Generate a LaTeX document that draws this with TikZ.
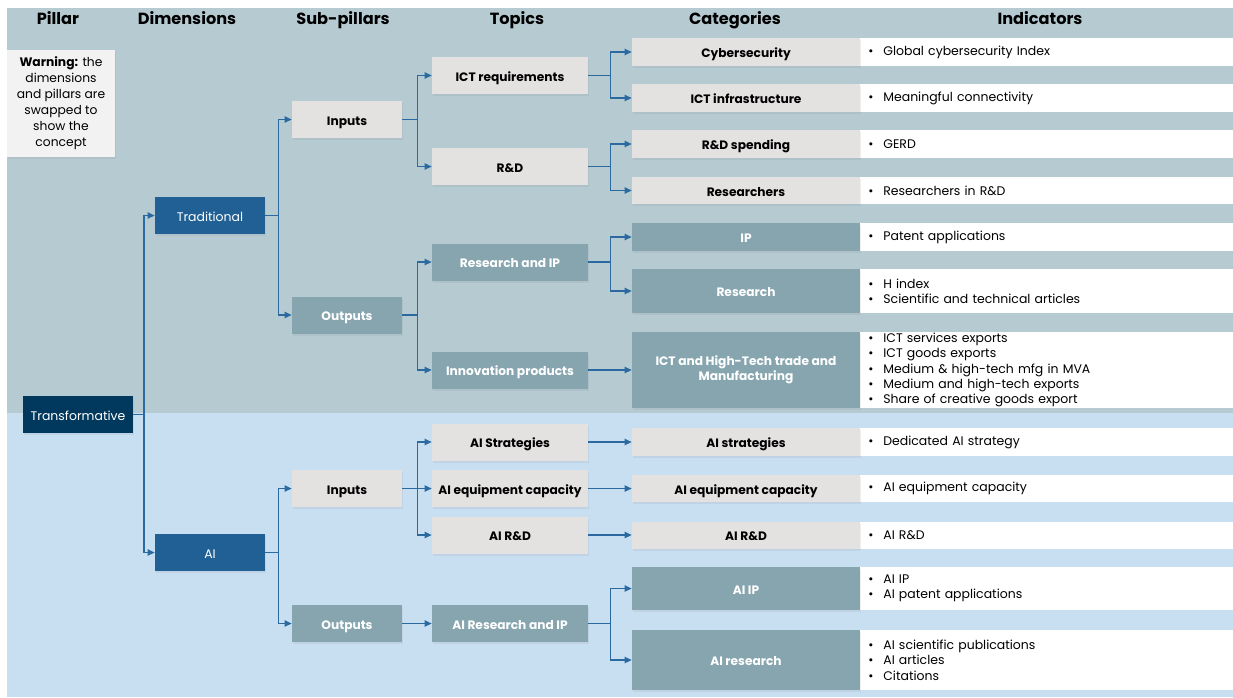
\documentclass[tikz,border=0pt]{standalone}
\usepackage{fontspec}
\setmainfont{Poppins}
\usetikzlibrary{arrows.meta,shadows}

\definecolor{bgtop}{HTML}{B6CAD2}
\definecolor{bgbot}{HTML}{C8DFF2}
\definecolor{navy}{HTML}{00395D}
\definecolor{dimblue}{HTML}{206094}
\definecolor{boxgrey}{HTML}{E4E1E1}
\definecolor{boxteal}{HTML}{86A5AF}
\definecolor{linkblue}{HTML}{2A6AA0}
\definecolor{warngrey}{HTML}{F2F2F2}

\newcommand{\bl}[1]{\makebox[0.3cm][l]{\textbullet}#1}

\tikzset{
  box/.style={inner sep=0pt, align=center, font=\fontsize{7.1}{8.8}\selectfont,
    drop shadow={opacity=0.12, shadow xshift=0.8pt, shadow yshift=-1.2pt}},
  oneline/.style={text height=1.55ex, text depth=0.4ex},
  head/.style={oneline, font=\fontsize{9.2}{11}\selectfont\bfseries},
  warnbox/.style={box, fill=warngrey, minimum width=2.16cm, minimum height=2.14cm,
    font=\fontsize{7.0}{9.1}\selectfont},
  navybox/.style={box, oneline, fill=navy, text=white, minimum width=2.2cm, minimum height=0.74cm},
  dimbox/.style={box, oneline, fill=dimblue, text=white, minimum width=2.2cm, minimum height=0.74cm},
  lightbox/.style={box, fill=boxgrey, font=\fontsize{6.95}{8.8}\selectfont\bfseries},
  tealbox/.style={box, fill=boxteal, text=white, font=\fontsize{6.95}{8.8}\selectfont\bfseries},
  catlight/.style={lightbox, oneline},
  catteal/.style={tealbox, oneline},
  catteal2/.style={tealbox},
  sub/.style={oneline, minimum width=2.2cm, minimum height=0.74cm},
  topic/.style={oneline, minimum width=3.12cm, minimum height=0.74cm},
  indbox/.style={fill=white, anchor=west, align=left, inner xsep=0.16cm, inner ysep=0pt,
    text width=7.14cm, font=\fontsize{7.1}{8.7}\selectfont},
  link/.style={draw=linkblue, line width=0.8pt, -{Triangle[length=4pt,width=3.6pt]}}
}

\begin{document}
\begin{tikzpicture}[x=0.02cm, y=-0.02cm]
  \useasboundingbox (0,0) rectangle (1233,697);
  % backgrounds
  \fill[bgtop] (7,8) rectangle (1233,413);
  \fill[bgbot] (7,413) rectangle (1233,697);

  % column heads
  \foreach \x/\t in {58/Pillar,187/Dimensions,343/Sub-pillars,517/Topics,735/Categories,1040/Indicators}
    \node[head] (h-\t) at (\x,18.5) {\t};

  \node[warnbox] (warn) at (61,103.5) {\textbf{Warning:} the\\dimensions\\and pillars are\\swapped to\\show the\\concept};

  % pillar and dimensions
  \node[navybox] (trans) at (78,414.5) {Transformative};
  \node[dimbox] (trad) at (210,215.5) {Traditional};
  \node[dimbox] (ai) at (210,552.5) {AI};

  % sub-pillars
  \node[lightbox, sub] (in1) at (347,119.5) {Inputs};
  \node[tealbox, sub] (out1) at (347,315) {Outputs};
  \node[lightbox, sub] (in2) at (347,488.5) {Inputs};
  \node[tealbox, sub] (out2) at (347,623.5) {Outputs};

  % topics
  \node[lightbox, topic] (ictreq) at (510,75.5) {ICT requirements};
  \node[lightbox, topic] (rd) at (510,166.5) {R\&D};
  \node[tealbox, topic] (resip) at (510,262) {Research and IP};
  \node[tealbox, topic] (innov) at (510,370) {Innovation products};
  \node[lightbox, topic] (aistrat) at (510,442) {AI Strategies};
  \node[lightbox, topic] (aiequip) at (510,488.5) {AI equipment capacity};
  \node[lightbox, topic] (aird) at (510,535) {AI R\&D};
  \node[tealbox, topic] (airesip) at (510,623.5) {AI Research and IP};

  % categories and indicators
  \foreach \n/\y/\h/\sty/\cat/\ind in {
      cyb/52/28/catlight/{Cybersecurity}/{\bl{Global cybersecurity Index}},
      infra/98/28/catlight/{ICT infrastructure}/{\bl{Meaningful connectivity}},
      rdsp/144/28/catlight/{R\&D spending}/{\bl{GERD}},
      rsr/190.5/27/catlight/{Researchers}/{\bl{Researchers in R\&D}},
      ip/237/28/catteal/{IP}/{\bl{Patent applications}},
      rsch/291/44/catteal/{Research}/{\bl{H index}\\\bl{Scientific and technical articles}},
      trade/370/76/catteal2/{ICT and High-Tech trade and\\Manufacturing}/{\bl{ICT services exports}\\\bl{ICT goods exports}\\\bl{Medium \& high-tech mfg in MVA}\\\bl{Medium and high-tech exports}\\\bl{Share of creative goods export}},
      aistr/442/28/catlight/{AI strategies}/{\bl{Dedicated AI strategy}},
      aieq/488.5/27/catlight/{AI equipment capacity}/{\bl{AI equipment capacity}},
      airdc/535/27/catlight/{AI R\&D}/{\bl{AI R\&D}},
      aiip/588.5/43/catteal/{AI IP}/{\bl{AI IP}\\\bl{AI patent applications}},
      aires/660/60/catteal/{AI research}/{\bl{AI scientific publications}\\\bl{AI articles}\\\bl{Citations}}} {
    \node[indbox, minimum height=\h*0.02cm] (ind-\n) at (860,\y) {\ind};
    \node[\sty, minimum width=4.56cm, minimum height=\h*0.02cm] (cat-\n) at (746,\y) {\cat};
  }

  % connectors
  \draw[link] (trans.east) -- ++(10.5,0) |- (trad.west);
  \draw[link] (trans.east) -- ++(10.5,0) |- (ai.west);
  \draw[link] (trad.east) -- ++(13,0) |- (in1.west);
  \draw[link] (trad.east) -- ++(13,0) |- (out1.west);
  \draw[link] (ai.east) -- ++(13,0) |- (in2.west);
  \draw[link] (ai.east) -- ++(13,0) |- (out2.west);
  \draw[link] (in1.east) -- ++(15,0) |- (ictreq.west);
  \draw[link] (in1.east) -- ++(15,0) |- (rd.west);
  \draw[link] (out1.east) -- ++(15,0) |- (resip.west);
  \draw[link] (out1.east) -- ++(15,0) |- (innov.west);
  \draw[link] (in2.east) -- ++(15,0) |- (aistrat.west);
  \draw[link] (in2.east) -- (aiequip.west);
  \draw[link] (in2.east) -- ++(15,0) |- (aird.west);
  \draw[link] (out2.east) -- (airesip.west);
  \draw[link] (ictreq.east) -- ++(22,0) |- (cat-cyb.west);
  \draw[link] (ictreq.east) -- ++(22,0) |- (cat-infra.west);
  \draw[link] (rd.east) -- ++(22,0) |- (cat-rdsp.west);
  \draw[link] (rd.east) -- ++(22,0) |- (cat-rsr.west);
  \draw[link] (resip.east) -- ++(22,0) |- (cat-ip.west);
  \draw[link] (resip.east) -- ++(22,0) |- (cat-rsch.west);
  \draw[link] (innov.east) -- (cat-trade.west);
  \draw[link] (aistrat.east) -- (cat-aistr.west);
  \draw[link] (aiequip.east) -- (cat-aieq.west);
  \draw[link] (aird.east) -- (cat-airdc.west);
  \draw[link] (airesip.east) -- ++(22,0) |- (cat-aiip.west);
  \draw[link] (airesip.east) -- ++(22,0) |- (cat-aires.west);
\end{tikzpicture}
\end{document}
